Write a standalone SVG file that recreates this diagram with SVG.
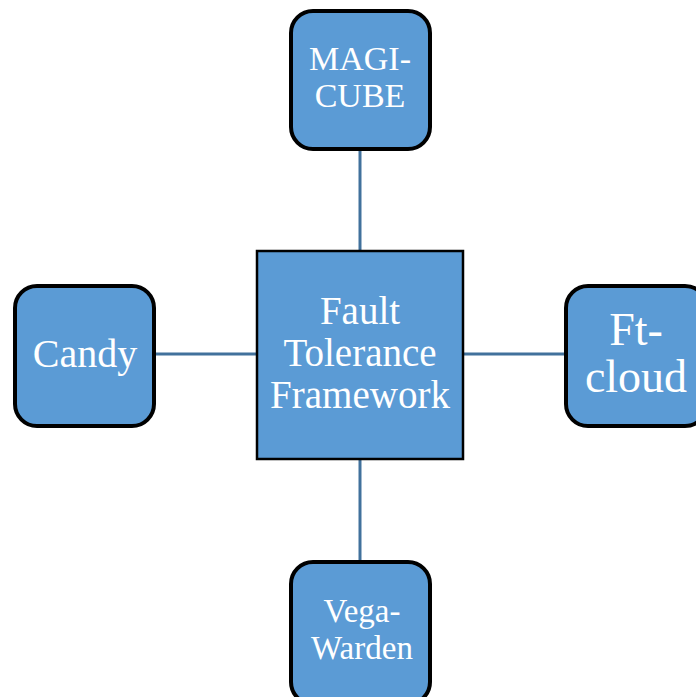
<svg xmlns="http://www.w3.org/2000/svg" width="696" height="697" viewBox="0 0 696 697">
  <style>
    .bg { fill: #ffffff; }
    .edge { stroke: #41719c; stroke-width: 3; fill: none; }
    .hub { fill: #5b9bd5; stroke: #000000; stroke-width: 2.5; }
    .leaf { fill: #5b9bd5; stroke: #000000; stroke-width: 4; }
    .lbl { fill: #ffffff; font-family: "Liberation Serif", "Times New Roman", serif; text-anchor: middle; }
  </style>
  <rect class="bg" x="0" y="0" width="696" height="697"/>

  <g id="connectors">
    <line class="edge" x1="360" y1="149" x2="360" y2="251"/>
    <line class="edge" x1="360" y1="459" x2="360" y2="562"/>
    <line class="edge" x1="155" y1="354" x2="257" y2="354"/>
    <line class="edge" x1="463" y1="354" x2="566" y2="354"/>
  </g>

  <g id="fault-tolerance-framework">
    <rect class="hub" x="257" y="251" width="206" height="208"/>
    <text class="lbl" font-size="39" x="360" y="324">Fault</text>
    <text class="lbl" font-size="39" x="360" y="366">Tolerance</text>
    <text class="lbl" font-size="39" x="360" y="408">Framework</text>
  </g>

  <g id="magi-cube">
    <rect class="leaf" x="291" y="11" width="139" height="138" rx="22"/>
    <text class="lbl" font-size="34" x="360" y="70">MAGI-</text>
    <text class="lbl" font-size="34" x="360" y="107">CUBE</text>
  </g>

  <g id="candy">
    <rect class="leaf" x="15" y="286" width="139" height="140" rx="22"/>
    <text class="lbl" font-size="40" x="85" y="367">Candy</text>
  </g>

  <g id="ft-cloud">
    <rect class="leaf" x="566" y="286" width="141" height="140" rx="22"/>
    <text class="lbl" font-size="46" x="636" y="345">Ft-</text>
    <text class="lbl" font-size="46" x="636" y="392">cloud</text>
  </g>

  <g id="vega-warden">
    <rect class="leaf" x="291" y="562" width="139" height="142" rx="22"/>
    <text class="lbl" font-size="33" x="362" y="622">Vega-</text>
    <text class="lbl" font-size="33" x="362" y="659">Warden</text>
  </g>
</svg>
